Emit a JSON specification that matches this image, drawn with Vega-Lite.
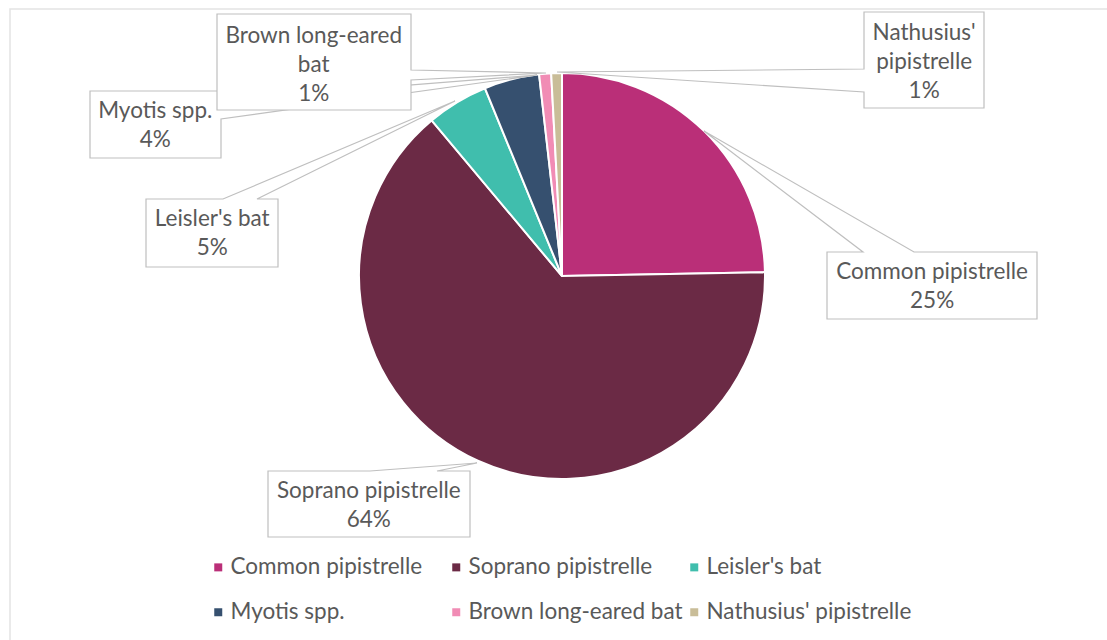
{
  "$schema": "https://vega.github.io/schema/vega-lite/v6.json",
  "width": 1090,
  "height": 552,
  "autosize": {"type": "none"},
  "padding": {"left": 17, "top": 0, "right": 0, "bottom": 88},
  "background": "white",
  "config": {"view": {"stroke": null}},
  "data": {
    "values": [
      {"species": "Common pipistrelle", "share": 24.7, "idx": 1, "callout": "Common pipistrelle\n25%"},
      {"species": "Soprano pipistrelle", "share": 64.2, "idx": 2, "callout": "Soprano pipistrelle\n64%"},
      {"species": "Leisler's bat", "share": 4.9, "idx": 3, "callout": "Leisler's bat\n5%"},
      {"species": "Myotis spp.", "share": 4.4, "idx": 4, "callout": "Myotis spp.\n4%"},
      {"species": "Brown long-eared bat", "share": 0.95, "idx": 5, "callout": "Brown long-eared\nbat\n1%"},
      {"species": "Nathusius' pipistrelle", "share": 0.85, "idx": 6, "callout": "Nathusius'\npipistrelle\n1%"}
    ]
  },
  "layer": [
    {
      "data": {"values": [{"item": "chart border"}]},
      "mark": {"type": "point", "shape": "M-552,-267L620,-267L620,420L-552,420Z", "size": 4, "filled": false, "stroke": "#D9D9D9", "strokeWidth": 1.5, "strokeOpacity": 1},
      "encoding": {}
    },
    {
      "mark": {"type": "arc", "outerRadius": 203, "stroke": "white", "strokeWidth": 2},
      "encoding": {
        "theta": {"field": "share", "type": "quantitative", "stack": true},
        "order": {"field": "idx", "type": "quantitative"},
        "color": {
          "field": "species",
          "type": "nominal",
          "scale": {
            "domain": ["Common pipistrelle", "Soprano pipistrelle", "Leisler's bat", "Myotis spp.", "Brown long-eared bat", "Nathusius' pipistrelle"],
            "range": ["#BA2F78", "#6B2A45", "#40BEAD", "#36506F", "#F18CB5", "#C9BD98"]
          },
          "legend": {
            "orient": "none", "legendX": 190, "legendY": 556, "columns": 3, "direction": "horizontal",
            "symbolType": "square", "symbolSize": 64, "symbolStrokeWidth": 0,
            "labelFont": "Lato", "labelFontSize": 22.5, "labelColor": "#595959", "labelOffset": 1, "labelLimit": 400,
            "columnPadding": -2, "rowPadding": 22, "gridAlign": "all", "title": null, "padding": 0
          }
        }
      }
    },
    {
      "data": {"values": [{"item": "Common pipistrelle callout"}]},
      "mark": {"type": "point", "shape": "M265,-24L301,-24L142,-145L352,-24L475,-24L475,43L265,43Z", "size": 4, "filled": true, "fill": "white", "fillOpacity": 1, "stroke": "#BFBFBF", "strokeWidth": 1.2, "strokeOpacity": 1},
      "encoding": {}
    },
    {
      "data": {"values": [{"item": "Soprano pipistrelle callout"}]},
      "mark": {"type": "point", "shape": "M-294,195L-192,195L-85,187L-125,195L-92,195L-92,261L-294,261Z", "size": 4, "filled": true, "fill": "white", "fillOpacity": 1, "stroke": "#BFBFBF", "strokeWidth": 1.2, "strokeOpacity": 1},
      "encoding": {}
    },
    {
      "data": {"values": [{"item": "Leisler's bat callout"}]},
      "mark": {"type": "point", "shape": "M-416,-77L-339,-77L-107,-175L-305,-77L-284,-77L-284,-9L-416,-9Z", "size": 4, "filled": true, "fill": "white", "fillOpacity": 1, "stroke": "#BFBFBF", "strokeWidth": 1.2, "strokeOpacity": 1},
      "encoding": {}
    },
    {
      "data": {"values": [{"item": "Myotis spp. callout"}]},
      "mark": {"type": "point", "shape": "M-472,-185L-341,-185L-341,-176L-25,-201L-341,-157L-341,-118L-472,-118Z", "size": 4, "filled": true, "fill": "white", "fillOpacity": 1, "stroke": "#BFBFBF", "strokeWidth": 1.2, "strokeOpacity": 1},
      "encoding": {}
    },
    {
      "data": {"values": [{"item": "Brown long-eared bat callout"}]},
      "mark": {"type": "point", "shape": "M-345,-262L-151,-262L-151,-206L-16,-203L-151,-196L-151,-166L-345,-166Z", "size": 4, "filled": true, "fill": "white", "fillOpacity": 1, "stroke": "#BFBFBF", "strokeWidth": 1.2, "strokeOpacity": 1},
      "encoding": {}
    },
    {
      "data": {"values": [{"item": "Nathusius' pipistrelle callout"}]},
      "mark": {"type": "point", "shape": "M302,-264L422,-264L422,-168L302,-168L302,-184L-5,-204L302,-207Z", "size": 4, "filled": true, "fill": "white", "fillOpacity": 1, "stroke": "#BFBFBF", "strokeWidth": 1.2, "strokeOpacity": 1},
      "encoding": {}
    },
    {
      "mark": {"type": "text", "radius": 220, "dx": 216, "dy": 153, "font": "Lato", "fontSize": 22.5, "fill": "#595959", "lineBreak": "\n", "lineHeight": 29, "align": "center", "baseline": "middle"},
      "encoding": {
        "theta": {"field": "share", "type": "quantitative", "stack": true},
        "order": {"field": "idx", "type": "quantitative"},
        "text": {"condition": {"test": "datum.idx === 1", "field": "callout"}, "value": ""}
      }
    },
    {
      "mark": {"type": "text", "radius": 220, "dx": -102, "dy": 15, "font": "Lato", "fontSize": 22.5, "fill": "#595959", "lineBreak": "\n", "lineHeight": 29, "align": "center", "baseline": "middle"},
      "encoding": {
        "theta": {"field": "share", "type": "quantitative", "stack": true},
        "order": {"field": "idx", "type": "quantitative"},
        "text": {"condition": {"test": "datum.idx === 2", "field": "callout"}, "value": ""}
      }
    },
    {
      "mark": {"type": "text", "radius": 220, "dx": -236, "dy": 131, "font": "Lato", "fontSize": 22.5, "fill": "#595959", "lineBreak": "\n", "lineHeight": 29, "align": "center", "baseline": "middle"},
      "encoding": {
        "theta": {"field": "share", "type": "quantitative", "stack": true},
        "order": {"field": "idx", "type": "quantitative"},
        "text": {"condition": {"test": "datum.idx === 3", "field": "callout"}, "value": ""}
      }
    },
    {
      "mark": {"type": "text", "radius": 220, "dx": -352, "dy": 48, "font": "Lato", "fontSize": 22.5, "fill": "#595959", "lineBreak": "\n", "lineHeight": 29, "align": "center", "baseline": "middle"},
      "encoding": {
        "theta": {"field": "share", "type": "quantitative", "stack": true},
        "order": {"field": "idx", "type": "quantitative"},
        "text": {"condition": {"test": "datum.idx === 4", "field": "callout"}, "value": ""}
      }
    },
    {
      "mark": {"type": "text", "radius": 220, "dx": -230, "dy": -21, "font": "Lato", "fontSize": 22.5, "fill": "#595959", "lineBreak": "\n", "lineHeight": 29, "align": "center", "baseline": "middle"},
      "encoding": {
        "theta": {"field": "share", "type": "quantitative", "stack": true},
        "order": {"field": "idx", "type": "quantitative"},
        "text": {"condition": {"test": "datum.idx === 5", "field": "callout"}, "value": ""}
      }
    },
    {
      "mark": {"type": "text", "radius": 220, "dx": 368, "dy": -23, "font": "Lato", "fontSize": 22.5, "fill": "#595959", "lineBreak": "\n", "lineHeight": 29, "align": "center", "baseline": "middle"},
      "encoding": {
        "theta": {"field": "share", "type": "quantitative", "stack": true},
        "order": {"field": "idx", "type": "quantitative"},
        "text": {"condition": {"test": "datum.idx === 6", "field": "callout"}, "value": ""}
      }
    }
  ]
}
